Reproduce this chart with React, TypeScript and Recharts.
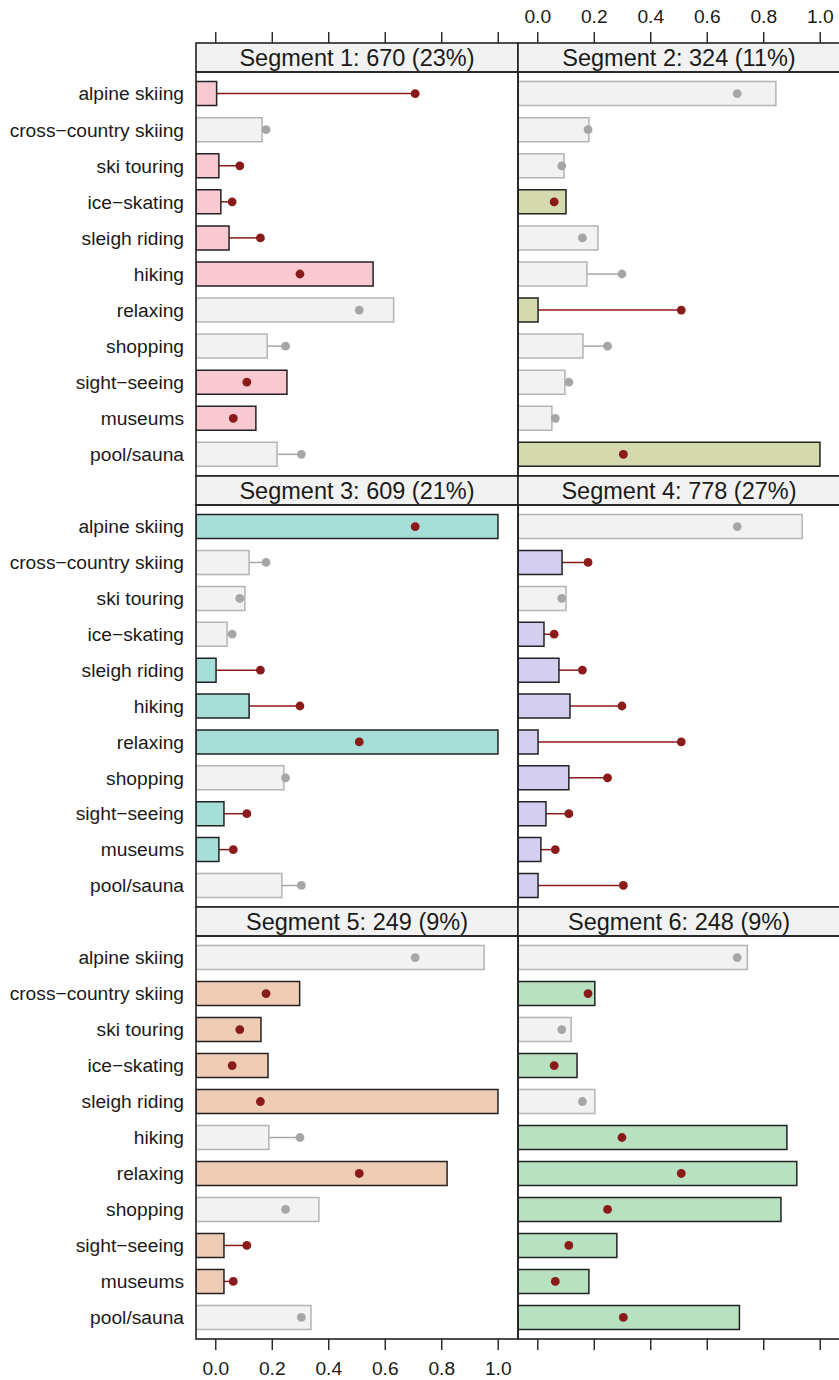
import { ComposedChart, Bar, Line, XAxis, YAxis, Cell } from "recharts";

const activities = [
  "alpine skiing",
  "cross\u2212country skiing",
  "ski touring",
  "ice\u2212skating",
  "sleigh riding",
  "hiking",
  "relaxing",
  "shopping",
  "sight\u2212seeing",
  "museums",
  "pool/sauna",
];

// overall mean (the dots)
const overallMean = [0.706, 0.178, 0.085, 0.058, 0.158, 0.298, 0.508, 0.247, 0.11, 0.062, 0.303];

const seg1 = [0.003, 0.164, 0.011, 0.018, 0.047, 0.557, 0.63, 0.182, 0.252, 0.142, 0.217];
const seg2 = [0.843, 0.181, 0.093, 0.1, 0.213, 0.174, 0.001, 0.16, 0.096, 0.05, 0.999];
const seg3 = [0.999, 0.118, 0.103, 0.04, 0.001, 0.118, 0.999, 0.241, 0.029, 0.011, 0.234];
const seg4 = [0.936, 0.086, 0.1, 0.022, 0.075, 0.114, 0.001, 0.11, 0.029, 0.011, 0.001];
const seg5 = [0.95, 0.297, 0.16, 0.185, 0.999, 0.188, 0.819, 0.365, 0.029, 0.029, 0.337];
const seg6 = [0.742, 0.202, 0.118, 0.139, 0.202, 0.882, 0.917, 0.861, 0.28, 0.181, 0.714];

// 1 = marked (coloured) bar, 0 = grey bar
const seg1Marked = [1, 0, 1, 1, 1, 1, 0, 0, 1, 1, 0];
const seg2Marked = [0, 0, 0, 1, 0, 0, 1, 0, 0, 0, 1];
const seg3Marked = [1, 0, 0, 0, 1, 1, 1, 0, 1, 1, 0];
const seg4Marked = [0, 1, 0, 1, 1, 1, 1, 1, 1, 1, 1];
const seg5Marked = [0, 1, 1, 1, 1, 0, 1, 0, 1, 1, 0];
const seg6Marked = [0, 1, 0, 1, 0, 1, 1, 1, 1, 1, 1];

const segTitles = [
  "Segment 1: 670 (23%)",
  "Segment 2: 324 (11%)",
  "Segment 3: 609 (21%)",
  "Segment 4: 778 (27%)",
  "Segment 5: 249 (9%)",
  "Segment 6: 248 (9%)",
];
const segColors = ["#F9C9D2", "#D5D9AE", "#A6DFD7", "#D4CEF0", "#EFCDB4", "#B7E1C1"];

const xTicks = [0, 0.2, 0.4, 0.6, 0.8, 1];

const segments = [seg1, seg2, seg3, seg4, seg5, seg6];
const marks = [seg1Marked, seg2Marked, seg3Marked, seg4Marked, seg5Marked, seg6Marked];

const FONT = "'Liberation Sans', Arial, Helvetica, sans-serif";
const LO = -0.07;
const HI = 1.07;
const INK = "#222222";
const DOT_RED = "#8B1A1A";
const GREY_DOT = "#A6A6A6";
const GREY_FILL = "#F2F2F2";
const GREY_EDGE = "#B4B4B4";

const PANEL_W = 322;
const LABEL_W = 196;
const STRIP_H = 29;
const stripTops = [43, 476, 907];
const plotBottoms = [476, 907, 1339];
const colLefts = [196, 518];

function SegmentPanel({ idx }: { idx: number }) {
  const row = Math.floor(idx / 2);
  const col = idx % 2;
  const marked = marks[idx];
  const data = activities.map((name, i) => ({
    name,
    v: segments[idx][i],
    d: overallMean[i],
    on: marked[i] === 1,
  }));

  const plotTop = stripTops[row] + STRIP_H;
  const plotH = plotBottoms[row] - plotTop;
  const topH = row === 0 ? STRIP_H + stripTops[0] : 0;
  const botH = row === 2 ? 41 : 0;
  const yW = col === 0 ? LABEL_W : 0;
  const showNums = (row === 0 && col === 1) || (row === 2 && col === 0);
  const color = segColors[idx];

  const renderTick = (p: any) => {
    const { x, y, payload } = p;
    if (row === 0) {
      return (
        <g>
          <line x1={x} x2={x} y1={y - STRIP_H} y2={y - STRIP_H - 11} stroke={INK} strokeWidth={1.4} />
          {showNums && (
            <text x={x} y={y - STRIP_H - 20} textAnchor="middle" fontSize={19.2} fontFamily={FONT} fill="#1a1a1a">
              {payload.value.toFixed(1)}
            </text>
          )}
        </g>
      );
    }
    return (
      <g>
        <line x1={x} x2={x} y1={y} y2={y + 11} stroke={INK} strokeWidth={1.4} />
        {showNums && (
          <text x={x} y={y + 36} textAnchor="middle" fontSize={19.2} fontFamily={FONT} fill="#1a1a1a">
            {payload.value.toFixed(1)}
          </text>
        )}
      </g>
    );
  };

  const connector = (p: any) => {
    const cy = p.y + p.height / 2;
    return (
      <line
        x1={p.x}
        x2={p.x + p.width}
        y1={cy}
        y2={cy}
        stroke={p.payload.on ? DOT_RED : GREY_DOT}
        strokeWidth={1.5}
      />
    );
  };

  const renderDot = (p: any) => (
    <circle key={p.index} cx={p.cx} cy={p.cy} r={4.4} fill={p.payload.on ? DOT_RED : GREY_DOT} />
  );

  return (
    <div
      style={{
        position: "absolute",
        left: colLefts[col] - yW,
        top: plotTop - topH,
      }}
    >
      <ComposedChart
        layout="vertical"
        width={yW + PANEL_W}
        height={topH + plotH + botH}
        data={data}
        margin={{ top: 0, right: 0, bottom: 0, left: 0 }}
        barGap={-24}
      >
        <XAxis
          type="number"
          domain={[LO, HI]}
          allowDataOverflow
          ticks={xTicks}
          orientation={row === 0 ? "top" : "bottom"}
          height={row === 0 ? topH : botH}
          hide={row === 1}
          axisLine={false}
          tickLine={false}
          tickSize={0}
          tickMargin={0}
          tick={renderTick}
          interval={0}
        />
        <YAxis
          type="category"
          dataKey="name"
          width={LABEL_W}
          hide={col === 1}
          padding={{ top: 3.6, bottom: 3.6 }}
          axisLine={false}
          tickLine={false}
          tickSize={0}
          tickMargin={12}
          interval={0}
          tick={{ fontSize: 19.2, fill: "#1a1a1a", fontFamily: FONT }}
        />
        <Bar
          dataKey={(r: any) => [Math.min(r.v, r.d), Math.max(r.v, r.d)]}
          barSize={24}
          shape={connector}
          isAnimationActive={false}
        />
        <Bar dataKey={(r: any) => [LO, r.v]} barSize={24} isAnimationActive={false}>
          {data.map((r, i) => (
            <Cell
              key={i}
              fill={r.on ? color : GREY_FILL}
              stroke={r.on ? INK : GREY_EDGE}
              strokeWidth={1.5}
            />
          ))}
        </Bar>
        <Line
          dataKey="d"
          stroke="none"
          dot={renderDot}
          activeDot={false}
          isAnimationActive={false}
        />
      </ComposedChart>
    </div>
  );
}

export default function App() {
  return (
    <div
      style={{
        position: "absolute",
        left: 0,
        top: 0,
        width: 839,
        height: 1380,
        overflow: "hidden",
        background: "#fff",
        fontFamily: FONT,
      }}
    >
      {segTitles.map((_, i) => (
        <SegmentPanel key={i} idx={i} />
      ))}

      {/* strips and panel borders drawn on top */}
      <svg
        width={839}
        height={1380}
        style={{ position: "absolute", left: 0, top: 0, pointerEvents: "none" }}
      >
        {segTitles.map((title, i) => {
          const row = Math.floor(i / 2);
          const col = i % 2;
          const x = colLefts[col];
          const st = stripTops[row];
          return (
            <g key={i}>
              <rect x={x} y={st} width={PANEL_W} height={STRIP_H} fill="#F2F2F2" stroke={INK} strokeWidth={1.6} />
              <text
                x={x + PANEL_W / 2}
                y={st + 23.3}
                textAnchor="middle"
                fontSize={23.5}
                fontFamily={FONT}
                fill="#1a1a1a"
              >
                {title}
              </text>
              <rect
                x={x}
                y={st + STRIP_H}
                width={PANEL_W}
                height={plotBottoms[row] - st - STRIP_H}
                fill="none"
                stroke={INK}
                strokeWidth={1.6}
              />
            </g>
          );
        })}
      </svg>
    </div>
  );
}
